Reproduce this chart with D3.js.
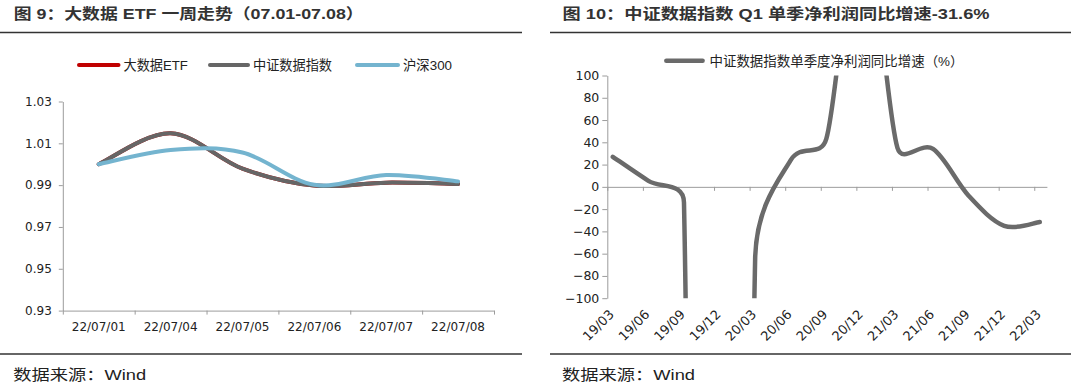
<!DOCTYPE html>
<html><head><meta charset="utf-8">
<script src="https://cdn.jsdelivr.net/npm/d3@7"></script>
<style>
html,body{margin:0;padding:0;background:#fff;}
svg{display:block;}
</style></head><body>
<svg id="c" width="1080" height="384"></svg>
<script>
// ---------- data: left chart (图9) ----------
const dates = ["22/07/01","22/07/04","22/07/05","22/07/06","22/07/07","22/07/08"];
const etfValues   = [1.000, 1.0148, 0.9979, 0.9898, 0.9912, 0.9906];
const indexValues = [1.000, 1.0148, 0.9979, 0.9898, 0.9912, 0.9906];
const hs300Values = [1.000, 1.0068, 1.0056, 0.9902, 0.9948, 0.9918];
const leftTicks = [0.93, 0.95, 0.97, 0.99, 1.01, 1.03];
const leftSeriesNames = ["大数据ETF", "中证数据指数", "沪深300"];
const leftTitle = "图 9：大数据 ETF 一周走势（07.01-07.08）";

// ---------- data: right chart (图10) ----------
const quarters = ["19/03","19/06","19/09","19/12","20/03","20/06","20/09","20/12","21/03","21/06","21/09","21/12","22/03"];
const growthValues = [27, 5.4, -14, -3000, -65, 24, 43, 250, 35, 34, -8, -35, -31.6];
const rightTicks = [-100, -80, -60, -40, -20, 0, 20, 40, 60, 80, 100];
const rightSeriesName = "中证数据指数单季度净利润同比增速（%）";
const rightTitle = "图 10：中证数据指数 Q1 单季净利润同比增速-31.6%";
const sourceText = "数据来源：Wind";

// ---------- Excel-like smoothing curve for d3.line ----------
function ExcelSmooth(context){ this._context = context; }
ExcelSmooth.prototype = {
  areaStart(){}, areaEnd(){},
  lineStart(){ this._pts = []; },
  point(x, y){ this._pts.push([+x, +y]); },
  lineEnd(){
    const p = this._pts, n = p.length, c = this._context;
    if (!n) return;
    c.moveTo(p[0][0], p[0][1]);
    if (n === 1) return;
    const tan = i => { const a = p[Math.max(i-1,0)], b = p[Math.min(i+1,n-1)]; return [b[0]-a[0], b[1]-a[1]]; };
    for (let i = 0; i < n-1; i++) {
      const P1 = p[i], P2 = p[i+1];
      const d = Math.hypot(P2[0]-P1[0], P2[1]-P1[1]);
      const t1 = tan(i), t2 = tan(i+1);
      const L1 = Math.hypot(t1[0], t1[1]) || 1, L2 = Math.hypot(t2[0], t2[1]) || 1;
      const h1 = Math.min(L1/6, d/2), h2 = Math.min(L2/6, d/2);
      c.bezierCurveTo(P1[0] + t1[0]/L1*h1, P1[1] + t1[1]/L1*h1,
                      P2[0] - t2[0]/L2*h2, P2[1] - t2[1]/L2*h2,
                      P2[0], P2[1]);
    }
  }
};
const curveExcel = ctx => new ExcelSmooth(ctx);

const svg = d3.select("#c");
const CJK = "'Liberation Sans','Noto Sans CJK SC',sans-serif";
const NUM = "'DejaVu Sans',sans-serif";
const AXIS = "#9c9c9c";
const TXT = "#222";

// ---------- titles, rules, sources ----------
function header(x, width, title, rx0, rx1){
  svg.append("text").attr("x", x).attr("y", 18.5)
    .attr("font-family", CJK).attr("font-weight", "bold").attr("font-size", 15)
    .attr("fill", "#333").attr("textLength", width).attr("lengthAdjust", "spacingAndGlyphs")
    .text(title);
  svg.append("line").attr("x1", rx0).attr("x2", rx1).attr("y1", 32.5).attr("y2", 32.5)
    .attr("stroke", "#333").attr("stroke-width", 1.3);
  svg.append("line").attr("x1", rx0).attr("x2", rx1).attr("y1", 354).attr("y2", 354)
    .attr("stroke", "#333").attr("stroke-width", 1.3);
  svg.append("text").attr("x", x - 0.5).attr("y", 380)
    .attr("font-family", CJK).attr("font-size", 15).attr("fill", "#222")
    .attr("textLength", 133).attr("lengthAdjust", "spacingAndGlyphs")
    .text(sourceText);
}
header(13.7, 350, leftTitle, 0, 522);
header(562.5, 427, rightTitle, 550, 1071);

// ---------- LEFT CHART ----------
{
  const x0 = 62.8, x1 = 494, yTop = 101.5, yBot = 310.6;
  const x = d3.scaleBand().domain(dates).range([x0, x1]);
  const xb = d3.scaleLinear().domain([0, dates.length]).range([x0, x1]);
  const y = d3.scaleLinear().domain([0.93, 1.03]).range([yBot, yTop]);
  const g = svg.append("g");

  const ya = g.append("g").attr("transform", `translate(${x0},0)`)
    .call(d3.axisLeft(y).tickValues(leftTicks).tickFormat(d3.format(".2f")).tickSize(4).tickPadding(7).tickSizeOuter(0));
  const xa = g.append("g").attr("transform", `translate(0,${yBot})`)
    .call(d3.axisBottom(xb).ticks(dates.length).tickFormat("").tickSize(4).tickSizeOuter(0));
  const xl = g.append("g").attr("transform", `translate(0,${yBot})`)
    .call(d3.axisBottom(x).tickSize(0).tickPadding(12));
  xl.select(".domain").remove();
  [ya, xa, xl].forEach(a => {
    a.selectAll("path.domain").attr("stroke", AXIS);
    a.selectAll("line").attr("stroke", AXIS);
    a.selectAll("text").attr("font-family", NUM).attr("font-size", 12).attr("fill", TXT);
  });

  const line = d3.line().x((d, i) => x(dates[i]) + x.bandwidth()/2).y(d => y(d)).curve(curveExcel);
  const series = [
    {name: leftSeriesNames[0], vals: etfValues, color: "#c00000"},
    {name: leftSeriesNames[1], vals: indexValues, color: "#666666"},
    {name: leftSeriesNames[2], vals: hs300Values, color: "#74b4cf"}
  ];
  series.forEach(s => {
    g.append("path").attr("d", line(s.vals)).attr("fill", "none")
      .attr("stroke", s.color).attr("stroke-width", 4).attr("stroke-linejoin", "round").attr("stroke-linecap", "round");
  });

  const legX = [79, 210, 357], legW = [39.5, 38, 41], txtW = [64.4, 79, 49];
  series.forEach((s, i) => {
    g.append("line").attr("x1", legX[i]).attr("x2", legX[i] + legW[i]).attr("y1", 65).attr("y2", 65)
      .attr("stroke", s.color).attr("stroke-width", 4).attr("stroke-linecap", "round");
    g.append("text").attr("x", legX[i] + legW[i] + 5).attr("y", 65).attr("dy", "0.36em")
      .attr("font-family", CJK).attr("font-size", 13.4).attr("fill", TXT)
      .attr("textLength", txtW[i]).attr("lengthAdjust", "spacingAndGlyphs")
      .text(s.name);
  });
}

// ---------- RIGHT CHART ----------
{
  const xA0 = 607.3, xA1 = 1047, yTop = 75.5, yBot = 298.2;
  const x = d3.scaleLinear().domain([-0.155, 12.2]).range([xA0, xA0 + 12.355 * 35.58]);
  const y = d3.scaleLinear().domain([-100, 100]).range([yBot, yTop]);
  const g = svg.append("g");

  const ya = g.append("g").attr("transform", `translate(${xA0},0)`)
    .call(d3.axisLeft(y).tickValues(rightTicks).tickSize(5).tickPadding(3).tickSizeOuter(0));
  const xa = g.append("g").attr("transform", `translate(0,${y(0)})`)
    .call(d3.axisBottom(x).tickValues(quarters.map((q, i) => i - 0.155)).tickFormat("").tickSize(4).tickSizeOuter(0));
  [ya, xa].forEach(a => {
    a.selectAll("path.domain").attr("stroke", AXIS);
    a.selectAll("line").attr("stroke", AXIS);
    a.selectAll("text").attr("font-family", NUM).attr("font-size", 12.5).attr("fill", TXT);
  });

  g.selectAll("text.q").data(quarters).join("text").attr("class", "q")
    .attr("transform", (d, i) => `translate(${x(i) + 2},${yBot + 17}) rotate(-45)`)
    .attr("text-anchor", "end")
    .attr("font-family", NUM).attr("font-size", 13).attr("fill", TXT)
    .text(d => d);

  g.append("clipPath").attr("id", "clipR").append("rect")
    .attr("x", xA0 - 10).attr("y", yTop).attr("width", xA1 - xA0 + 20).attr("height", yBot - yTop);
  const line = d3.line().x((d, i) => x(i)).y(d => y(d)).curve(curveExcel);
  g.append("path").attr("d", line(growthValues)).attr("clip-path", "url(#clipR)")
    .attr("fill", "none").attr("stroke", "#6a6a6a").attr("stroke-width", 4.5)
    .attr("stroke-linejoin", "round").attr("stroke-linecap", "round");

  g.append("line").attr("x1", 666.3).attr("x2", 702.6).attr("y1", 60.7).attr("y2", 60.7)
    .attr("stroke", "#6a6a6a").attr("stroke-width", 4.5).attr("stroke-linecap", "round");
  g.append("text").attr("x", 709.5).attr("y", 60.7).attr("dy", "0.36em")
    .attr("font-family", CJK).attr("font-size", 13.4).attr("fill", TXT)
    .attr("textLength", 254).attr("lengthAdjust", "spacingAndGlyphs")
    .text(rightSeriesName);
}
</script>
</body></html>
